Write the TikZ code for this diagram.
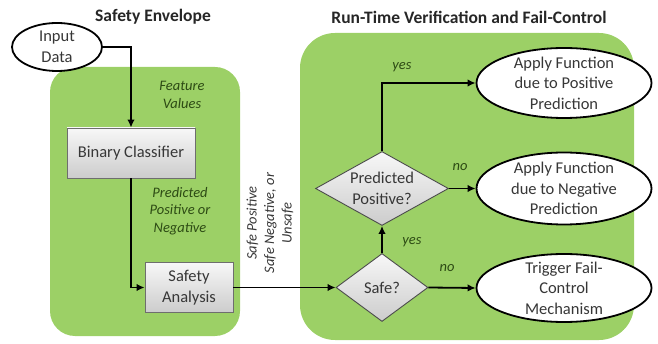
\documentclass[tikz,border=0pt]{standalone}
\usepackage{fontspec}
\setmainfont{Carlito}
\usetikzlibrary{shapes.geometric,arrows.meta}
\definecolor{envgreen}{RGB}{156,208,102}
\definecolor{lblgreen}{RGB}{45,75,20}
\definecolor{txtgray}{RGB}{55,55,55}
\definecolor{boxedge}{RGB}{110,110,110}
\tikzset{
  envbox/.style={fill=envgreen},
  titletxt/.style={font=\fontsize{17.5}{20}\selectfont\bfseries, text=black!85},
  graybox/.style={rectangle, draw=boxedge, line width=0.9pt, top color=gray!6, bottom color=gray!40,
    font=\fontsize{16.5}{21}\selectfont, text=txtgray, align=center, inner sep=0pt},
  decide/.style={diamond, draw=black!70, line width=0.9pt, top color=gray!6, bottom color=gray!40,
    font=\fontsize{16.5}{21}\selectfont, text=txtgray, align=center, inner sep=0pt, aspect=1.8},
  ellshape/.style={ellipse, draw=black, line width=1.8pt, fill=white, inner sep=0pt},
  elltxt/.style={font=\fontsize{16.5}{20.5}\selectfont, text=txtgray, align=center, inner sep=0pt},
  flowlbl/.style={font=\fontsize{14.5}{17.5}\selectfont\itshape, text=lblgreen, align=center, inner sep=0pt},
  arr/.style={draw=black, line width=1.8pt, -{Latex[length=8pt,width=7.5pt]}}
}
\begin{document}
\begin{tikzpicture}[x=1pt,y=-1pt]
\useasboundingbox (0,0) rectangle (658,344);
% green envelopes
\fill[envbox, rounded corners=25pt] (50,67) rectangle (240,336);
\fill[envbox, rounded corners=35pt] (300,33) rectangle (634,340);
% titles
\node[titletxt] (t1) at (153,17) {Safety Envelope};
\node[titletxt] (t2) at (469,17) {Run-Time Verification and Fail-Control};
% input
\node[ellshape, minimum width=90pt, minimum height=48pt] (in) at (57,47) {};
\node[elltxt] (intxt) at (in.center) {Input\\Data};
% boxes
\node[graybox, minimum width=128pt, minimum height=50pt] (bc) at (131,153) {Binary Classifier};
\node[graybox, minimum width=88pt, minimum height=50pt] (sa) at (189,287.5) {Safety\\Analysis};
% diamonds
\node[decide, minimum width=92pt, minimum height=68pt] (safe) at (382,287.5) {Safe?};
\node[decide, minimum width=133pt, minimum height=74pt] (pp) at (382,188.5) {Predicted\\Positive?};
% outcome ellipses
\node[ellshape, minimum width=175pt, minimum height=70pt] (pos) at (564,83) {};
\node[elltxt] (postxt) at (pos.center) {Apply Function\\due to Positive\\Prediction};
\node[ellshape, minimum width=175pt, minimum height=72pt] (neg) at (564,188.5) {};
\node[elltxt] (negtxt) at (neg.center) {Apply Function\\due to Negative\\Prediction};
\node[ellshape, minimum width=175pt, minimum height=68pt] (trig) at (564,288) {};
\node[elltxt] (trigtxt) at (trig.center) {Trigger Fail-\\Control\\Mechanism};
% connectors
\draw[arr] (in.east) -| (bc.north);
\draw[arr] (bc.south) |- (sa.west);
\draw[arr] (sa.east) -- (safe.west);
\draw[arr] (safe.north) -- (pp.south);
\draw[arr] (pp.north) |- (pos.west);
\draw[arr] (pp.east) -- (neg.west);
\draw[arr] (safe.east) -- (trig.west);
% labels
\node[flowlbl] (fv) at (182,95) {Feature\\Values};
\node[flowlbl] (ppn) at (180,211) {Predicted\\Positive or\\Negative};
\node[flowlbl, text=txtgray, rotate=90] (spn) at (270,223) {Safe Positive\\Safe Negative, or\\Unsafe};
\node[flowlbl] (y1) at (402,67) {yes};
\node[flowlbl] (y2) at (412,242) {yes};
\node[flowlbl] (n1) at (460,167) {no};
\node[flowlbl] (n2) at (447,268) {no};
\end{tikzpicture}
\end{document}
